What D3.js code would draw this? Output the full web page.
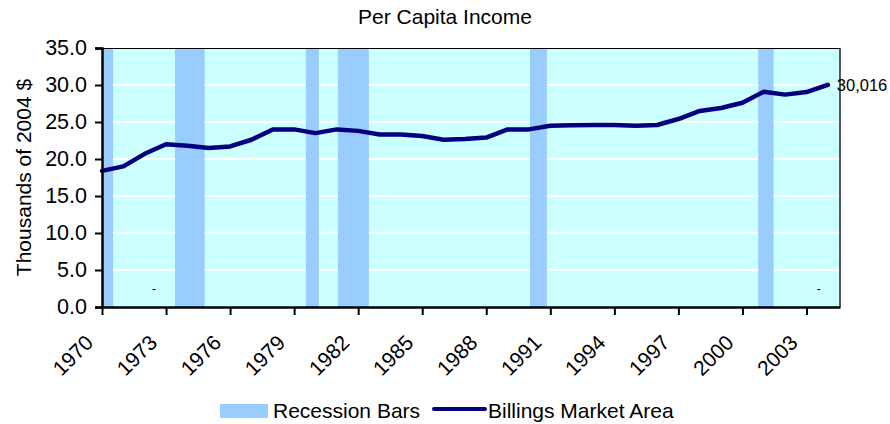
<!DOCTYPE html>
<html>
<head>
<meta charset="utf-8">
<script src="https://cdn.jsdelivr.net/npm/d3@7"></script>
<style>
  html, body { margin: 0; padding: 0; background: #ffffff; }
  svg { display: block; font-family: "Liberation Sans", Arial, sans-serif; }
</style>
</head>
<body>
<svg id="chart" width="890" height="424"></svg>
<script>
// ---- Data ----
const years = [1970,1971,1972,1973,1974,1975,1976,1977,1978,1979,
               1980,1981,1982,1983,1984,1985,1986,1987,1988,1989,
               1990,1991,1992,1993,1994,1995,1996,1997,1998,1999,
               2000,2001,2002,2003,2004];
const income = [18.4,19.0,20.7,22.0,21.8,21.5,21.7,22.6,24.0,24.0,
                23.5,24.0,23.8,23.3,23.3,23.1,22.6,22.7,22.9,24.0,
                24.0,24.5,24.55,24.6,24.6,24.5,24.6,25.4,26.5,26.9,
                27.6,29.1,28.7,29.05,30.016];
// recession bars as drawn (start, end in axis years)
const recessionStart = [1970.0, 1973.42, 1979.55, 1981.05, 1990.05, 2000.74];
const recessionEnd   = [1970.52, 1974.81, 1980.16, 1982.5, 1990.84, 2001.46];
const dashLabelYears = [1972.44, 2003.58];
const dashLabelValues = [2.5, 2.5];
const xTickYears = [1970,1973,1976,1979,1982,1985,1988,1991,1994,1997,2000,2003];
const yTickValues = [0,5,10,15,20,25,30,35];
const gridValues = [5,10,15,20,25,30];
const xDomain = [1970, 2004.57];
const yDomain = [0, 35];
const endLabel = "30,016";
const titleText = "Per Capita Income";
const yTitle = "Thousands of 2004 $";
const legendLabels = ["Recession Bars", "Billings Market Area"];

// ---- Layout ----
const L = 102, R = 840, T = 48, B = 307;
const svg = d3.select("#chart");
const x = d3.scaleLinear().domain(xDomain).range([L, R]);
const y = d3.scaleLinear().domain(yDomain).range([B, T]);

// plot background
svg.append("rect").attr("x", L).attr("y", T).attr("width", R - L).attr("height", B - T)
  .attr("fill", "#CCFFFF");

// gridlines
svg.append("g").selectAll("line").data(gridValues).join("line")
  .attr("x1", L).attr("x2", R)
  .attr("y1", d => y(d)).attr("y2", d => y(d))
  .attr("stroke", "#ffffff").attr("stroke-width", 2);

// recession bars
svg.append("g").selectAll("rect").data(recessionStart).join("rect")
  .attr("x", (d) => x(d))
  .attr("width", (d, i) => x(recessionEnd[i]) - x(d))
  .attr("y", y(35)).attr("height", y(0) - y(35))
  .attr("fill", "#99CCFF");

// top and right border
svg.append("line").attr("x1", L).attr("x2", R).attr("y1", T + 0.5).attr("y2", T + 0.5)
  .attr("stroke", "#000").attr("stroke-width", 1);
svg.append("line").attr("x1", R).attr("x2", R).attr("y1", T).attr("y2", B)
  .attr("stroke", "#222").attr("stroke-width", 1.5);

// dash labels
svg.append("g").selectAll("text").data(dashLabelYears).join("text")
  .attr("x", d => x(d)).attr("y", (d, i) => y(dashLabelValues[i]) + 4)
  .attr("text-anchor", "middle").attr("font-size", 12).attr("fill", "#000")
  .text("-");

// line
const line = d3.line().x((d, i) => x(years[i])).y(d => y(d));
svg.append("path").datum(income)
  .attr("d", line).attr("fill", "none")
  .attr("stroke", "#000080").attr("stroke-width", 4.5)
  .attr("stroke-linejoin", "round").attr("stroke-linecap", "round");

// end label
svg.append("text").attr("x", x(years[years.length - 1]) + 9)
  .attr("y", y(income[income.length - 1]) + 6)
  .attr("font-size", 16.5).attr("fill", "#000").text(endLabel);

// y axis
const yAxis = d3.axisLeft(y).tickValues(yTickValues).tickFormat(d3.format(".1f"))
  .tickSize(7).tickPadding(8);
const gy = svg.append("g").attr("transform", `translate(${L},0)`).call(yAxis);
gy.select(".domain").attr("stroke", "#000").attr("stroke-width", 2.5);
gy.selectAll(".tick line").attr("stroke", "#000").attr("stroke-width", 2);
gy.selectAll(".tick text").attr("font-size", 21.5).attr("fill", "#000")
  .attr("font-family", "Liberation Sans, Arial, sans-serif");

// x axis
const xAxis = d3.axisBottom(x).tickValues(xTickYears).tickFormat(d3.format("d"))
  .tickSize(8).tickSizeOuter(0);
const gx = svg.append("g").attr("transform", `translate(0,${B})`).call(xAxis);
gx.select(".domain").attr("stroke", "#000").attr("stroke-width", 2.5);
gx.selectAll(".tick line").attr("stroke", "#000").attr("stroke-width", 2);
gx.selectAll(".tick text").attr("font-size", 21).attr("fill", "#000")
  .attr("font-family", "Liberation Sans, Arial, sans-serif")
  .attr("text-anchor", "end")
  .attr("dy", null)
  .attr("y", null)
  .attr("transform", "translate(-8,37) rotate(-45)");

// title
svg.append("text").attr("x", 445).attr("y", 24).attr("text-anchor", "middle")
  .attr("font-size", 21).attr("fill", "#000").text(titleText);

// y title
svg.append("text").attr("transform", `translate(31,${(T + B) / 2}) rotate(-90)`)
  .attr("text-anchor", "middle").attr("font-size", 21).attr("fill", "#000").text(yTitle);

// legend
const lg = svg.append("g");
lg.append("rect").attr("x", 220).attr("y", 404).attr("width", 48).attr("height", 14)
  .attr("fill", "#99CCFF");
lg.append("text").attr("x", 273).attr("y", 418).attr("font-size", 21).attr("fill", "#000")
  .text(legendLabels[0]);
lg.append("line").attr("x1", 434).attr("x2", 485).attr("y1", 409).attr("y2", 409)
  .attr("stroke", "#000080").attr("stroke-width", 4).attr("stroke-linecap", "round");
lg.append("text").attr("x", 488).attr("y", 418).attr("font-size", 21).attr("fill", "#000")
  .text(legendLabels[1]);
</script>
</body>
</html>
